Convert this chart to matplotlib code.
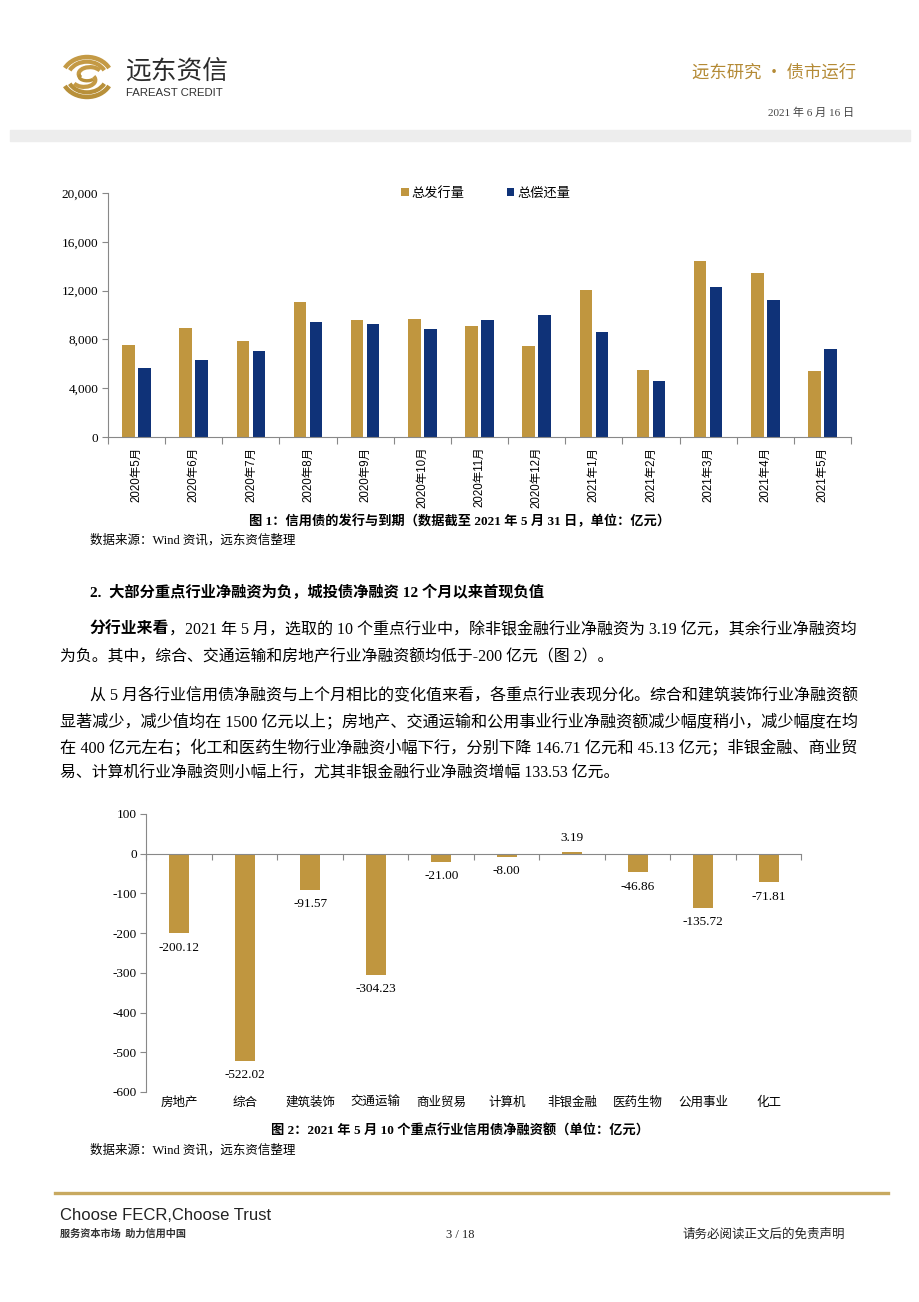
import matplotlib
matplotlib.use('Agg')
import matplotlib.pyplot as plt
import matplotlib.patches as mpatches
from matplotlib.lines import Line2D
import numpy as np

# ---- data ----
months = ['2020年5月', '2020年6月', '2020年7月', '2020年8月', '2020年9月', '2020年10月',
          '2020年11月', '2020年12月', '2021年1月', '2021年2月', '2021年3月', '2021年4月', '2021年5月']
issuance = [7540, 8930, 7840, 11090, 9590, 9670, 9100, 7490, 12080, 5460, 14430, 13470, 5410]
repayment = [5630, 6340, 7020, 9400, 9290, 8880, 9560, 10000, 8610, 4560, 12300, 11260, 7240]

industries = ['房地产', '综合', '建筑装饰', '交通运输', '商业贸易', '计算机', '非银金融', '医药生物', '公用事业', '化工']
net_financing = [-200.12, -522.02, -91.57, -304.23, -21.00, -8.00, 3.19, -46.86, -135.72, -71.81]

GOLD = '#C0963F'
NAVY = '#0F3278'
SERIF = ['Liberation Serif', 'Noto Sans CJK SC']
SANS = ['Liberation Sans', 'Noto Sans CJK SC']
CJK = ['Noto Sans CJK SC', 'Liberation Sans']

W, H = 920, 1302
fig = plt.figure(figsize=(W / 100, H / 100), dpi=100)


def fx(x):
    return x / W


def fy(y):
    return 1 - y / H


def ftext(x, y, s, **kw):
    kw.setdefault('family', SERIF)
    kw.setdefault('va', 'center')
    return fig.text(fx(x), fy(y), s, **kw)


# ---- header ----
logo = fig.add_axes([fx(58), fy(102), fx(58), 50 / H])
logo.set_xlim(-1.15, 1.15)
logo.set_ylim(-1.0, 1.0)
logo.axis('off')
for r, lw in [(1.0, 3.2), (0.78, 3.0)]:
    logo.add_patch(mpatches.Arc((0, -0.05), 2 * r, 1.7 * r, theta1=25, theta2=155, color='#C49A45', lw=lw))
    logo.add_patch(mpatches.Arc((0, 0.05), 2 * r, 1.7 * r, theta1=205, theta2=335, color='#B8903A', lw=lw))
logo.add_patch(mpatches.Arc((0.12, 0.12), 0.9, 0.55, theta1=20, theta2=200, color='#C49A45', lw=3.0))
logo.add_patch(mpatches.Arc((-0.12, -0.12), 0.9, 0.55, theta1=200, theta2=380, color='#C49A45', lw=3.0))
logo.add_patch(mpatches.Arc((0, 0), 0.6, 0.3, theta1=160, theta2=340, color='#B8903A', lw=2.4))

ftext(126, 72, '远东资信', family=CJK, fontsize=18.5, color='#2B2B2B')
ftext(126, 93, 'FAREAST CREDIT', family=SANS, fontsize=8.2, color='#333333')
ftext(856, 73, '远东研究 • 债市运行', family=CJK, fontsize=12.5, color='#B48A35', ha='right')
ftext(854, 113, '2021 年 6 月 16 日', fontsize=8, color='#444444', ha='right')
fig.patches.append(mpatches.Rectangle((fx(10), fy(141)), fx(900), 11 / H,
                                      transform=fig.transFigure, color='#EDEDED', zorder=0))

# ---- chart 1 ----
ax1 = fig.add_axes([fx(108), fy(437), fx(743), 244 / H])
x = np.arange(len(months))
ax1.bar(x - 0.14, issuance, 0.22, color=GOLD, label='总发行量')
ax1.bar(x + 0.14, repayment, 0.22, color=NAVY, label='总偿还量')
ax1.set_xlim(-0.5, len(months) - 0.5)
ax1.set_ylim(0, 20000)
ax1.set_yticks(range(0, 20001, 4000))
ax1.set_yticklabels([f'{v:,}' for v in range(0, 20001, 4000)], family=SERIF, fontsize=9.5)
ax1.set_xticks(np.arange(-0.5, len(months), 1.0))
ax1.set_xticklabels([])
for i, m in enumerate(months):
    ax1.text(i, -0.04, m, transform=ax1.get_xaxis_transform(), rotation=90,
             ha='center', va='top', family=SANS, fontsize=8.3)
for side in ['top', 'right']:
    ax1.spines[side].set_visible(False)
for side in ['left', 'bottom']:
    ax1.spines[side].set_color('#888888')
ax1.tick_params(axis='y', length=4, color='#888888', pad=3)
ax1.tick_params(axis='x', length=5, color='#888888')
ax1.legend(loc='center', bbox_to_anchor=(fx(486), fy(193)), bbox_transform=fig.transFigure,
           ncol=2, frameon=False, handlelength=0.55, handleheight=0.55, handletextpad=0.25,
           columnspacing=3.2, prop={'family': CJK, 'size': 9.5})

ftext(460, 521, '图 1：信用债的发行与到期（数据截至 2021 年 5 月 31 日，单位：亿元）',
      fontsize=9.5, fontweight='bold', ha='center')
ftext(90, 540, '数据来源：Wind 资讯，远东资信整理', fontsize=9)

# ---- body text ----
BODY_FS = 11.4
RIGHT = 860
ftext(90, 592, '2.  大部分重点行业净融资为负，城投债净融资 12 个月以来首现负值', fontsize=11, fontweight='bold')
lead = ftext(90, 630, '分行业来看', fontsize=BODY_FS, fontweight='bold')
lines = [
    (None, 630, '，2021 年 5 月，选取的 10 个重点行业中，除非银金融行业净融资为 3.19 亿元，其余行业净融资均', True),
    (60, 657, '为负。其中，综合、交通运输和房地产行业净融资额均低于-200 亿元（图 2）。', False),
    (90, 696, '从 5 月各行业信用债净融资与上个月相比的变化值来看，各重点行业表现分化。综合和建筑装饰行业净融资额', True),
    (60, 722, '显著减少，减少值均在 1500 亿元以上；房地产、交通运输和公用事业行业净融资额减少幅度稍小，减少幅度在均', True),
    (60, 748, '在 400 亿元左右；化工和医药生物行业净融资小幅下行，分别下降 146.71 亿元和 45.13 亿元；非银金融、商业贸', True),
    (60, 773, '易、计算机行业净融资则小幅上行，尤其非银金融行业净融资增幅 133.53 亿元。', False),
]
fig.canvas.draw()
renderer = fig.canvas.get_renderer()
lead_end = lead.get_window_extent(renderer).x1
for bx, by, s, justify in lines:
    start = lead_end if bx is None else bx
    t = ftext(start, by, s, fontsize=BODY_FS)
    if justify:
        w = t.get_window_extent(renderer).width
        t.set_fontsize(BODY_FS * (RIGHT - start) / w)

# ---- chart 2 ----
ax2 = fig.add_axes([fx(146.5), fy(1092), fx(655), 278 / H])
x2 = np.arange(len(industries))
ax2.bar(x2, net_financing, 0.31, color=GOLD)
ax2.set_xlim(-0.5, len(industries) - 0.5)
ax2.set_ylim(-600, 100)
ax2.set_yticks(range(-600, 101, 100))
ax2.set_yticklabels([str(v) for v in range(-600, 101, 100)], family=SERIF, fontsize=9.5)
ax2.spines['bottom'].set_position(('data', 0))
ax2.set_xticks(np.arange(-0.5, len(industries), 1.0))
ax2.set_xticklabels([])
for i, name in enumerate(industries):
    ax2.text(i, -0.015, name, transform=ax2.get_xaxis_transform(), ha='center', va='top',
             family=CJK, fontsize=9)
for i, v in enumerate(net_financing):
    if v < 0:
        ax2.annotate(f'{v:.2f}', (i, v), xytext=(0, -6), textcoords='offset points',
                     ha='center', va='top', family=SERIF, fontsize=9.5)
    else:
        ax2.annotate(f'{v:.2f}', (i, v), xytext=(0, 6), textcoords='offset points',
                     ha='center', va='bottom', family=SERIF, fontsize=9.5)
for side in ['top', 'right']:
    ax2.spines[side].set_visible(False)
for side in ['left', 'bottom']:
    ax2.spines[side].set_color('#888888')
ax2.tick_params(axis='y', length=4, color='#888888', pad=3)
ax2.tick_params(axis='x', length=4, color='#888888')

ftext(460, 1131, '图 2：2021 年 5 月 10 个重点行业信用债净融资额（单位：亿元）',
      fontsize=9.5, fontweight='bold', ha='center')
ftext(90, 1150, '数据来源：Wind 资讯，远东资信整理', fontsize=9)

# ---- footer ----
fig.lines.append(Line2D([fx(55), fx(888)], [fy(1193), fy(1193)], transform=fig.transFigure,
                        color='#C8A960', lw=2.4))
ftext(60, 1216, 'Choose FECR,Choose Trust', family=SANS, fontsize=12, color='#222222')
ftext(60, 1234, '服务资本市场  助力信用中国', family=CJK, fontsize=7.3, color='#333333', fontweight='bold')
ftext(460, 1235, '3 / 18', fontsize=9, ha='center', color='#222222')
ftext(845, 1235, '请务必阅读正文后的免责声明', fontsize=9, ha='right', color='#222222')

fig.savefig('out.png', dpi=100)
